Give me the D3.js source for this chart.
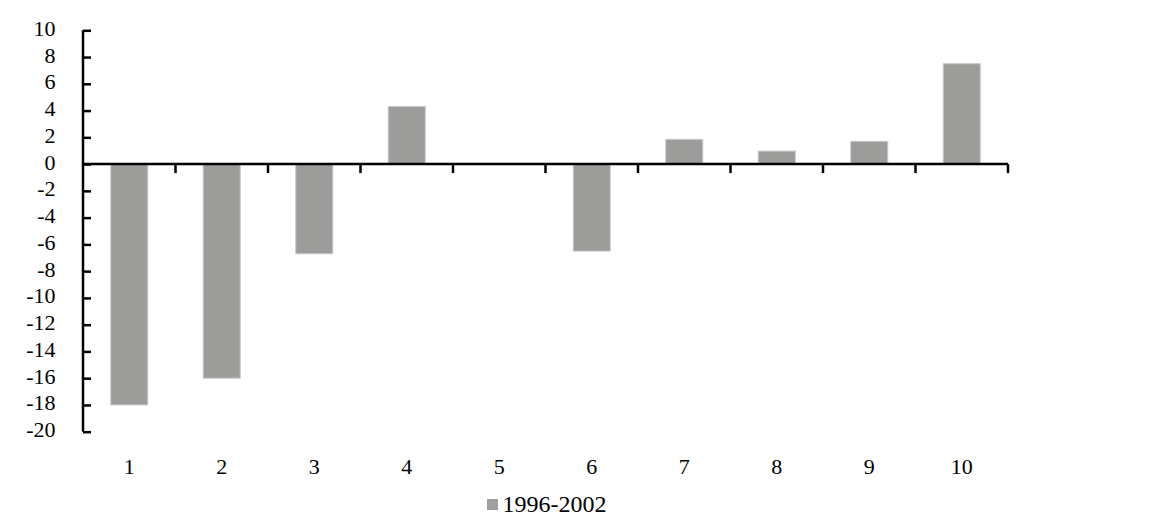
<!DOCTYPE html>
<html><head><meta charset="utf-8">
<script src="https://cdn.jsdelivr.net/npm/d3@7"></script>
<style>body{margin:0;background:#fff}svg{display:block}text{font-family:"Liberation Serif","Times New Roman",serif}</style>
</head><body><svg id="c" width="1168" height="516"></svg>
<script>
const categories = ["1","2","3","4","5","6","7","8","9","10"];
const seriesName = "1996-2002";
const values = [-18, -16, -6.7, 4.3, 0, -6.5, 1.85, 0.97, 1.7, 7.5];
const yTicks = [10,8,6,4,2,0,-2,-4,-6,-8,-10,-12,-14,-16,-18,-20];

const svg = d3.select("#c");
const mLeft = 83, mRight = 1008, mTop = 30.3, mBottom = 431.7;
const x = d3.scaleBand().domain(categories).range([mLeft, mRight]).paddingInner(0).paddingOuter(0);
const y = d3.scaleLinear().domain([-20, 10]).range([mBottom, mTop]);
const bw = x.bandwidth() * 0.4;

svg.append("g").selectAll("rect").data(values).join("rect")
  .attr("x", (d,i) => x(categories[i]) + (x.bandwidth()-bw)/2)
  .attr("y", d => y(Math.max(0,d)))
  .attr("width", bw)
  .attr("height", d => Math.abs(y(d)-y(0)))
  .attr("fill", "#9c9c9a").attr("stroke", "#c8c8c8").attr("stroke-width", 1);

// y axis
const ya = svg.append("g").attr("transform", `translate(${mLeft},0)`)
  .call(d3.axisRight(y).tickValues(yTicks).tickSize(8).tickFormat(""));
ya.select(".domain").attr("stroke", "#000").attr("stroke-width", 2.5).attr("d", `M0,${mTop}V${mBottom}`);
ya.selectAll(".tick line").attr("stroke", "#000").attr("stroke-width", 2.5);
svg.append("g").selectAll("text").data(yTicks).join("text")
  .attr("x", 55.5).attr("y", d => y(d) + 5.5)
  .attr("text-anchor", "end").attr("font-size", 22).attr("fill", "#000")
  .text(d => d);

// x axis at zero
const xa = svg.append("g").attr("transform", `translate(0,${y(0)})`)
  .call(d3.axisBottom(x).tickSize(0).tickFormat(""));
xa.select(".domain").attr("stroke", "#000").attr("stroke-width", 2.5).attr("d", `M${mLeft},0H${mRight}`);
const bounds = categories.map(c => x(c)).slice(1).concat([mRight]);
svg.append("g").selectAll("line").data(bounds).join("line")
  .attr("x1", d => d).attr("x2", d => d).attr("y1", y(0)).attr("y2", y(0)+9)
  .attr("stroke", "#000").attr("stroke-width", 2.5);

// category labels
svg.append("g").selectAll("text").data(categories).join("text")
  .attr("x", d => x(d) + x.bandwidth()/2).attr("y", 474.3)
  .attr("text-anchor", "middle").attr("font-size", 22).attr("fill", "#000")
  .text(d => d);

// legend
svg.append("rect").attr("x", 487).attr("y", 499).attr("width", 11).attr("height", 11).attr("fill", "#a0a0a0");
svg.append("text").attr("x", 502.5).attr("y", 511.5).attr("font-size", 24).attr("fill", "#000").text(seriesName);
</script></body></html>
